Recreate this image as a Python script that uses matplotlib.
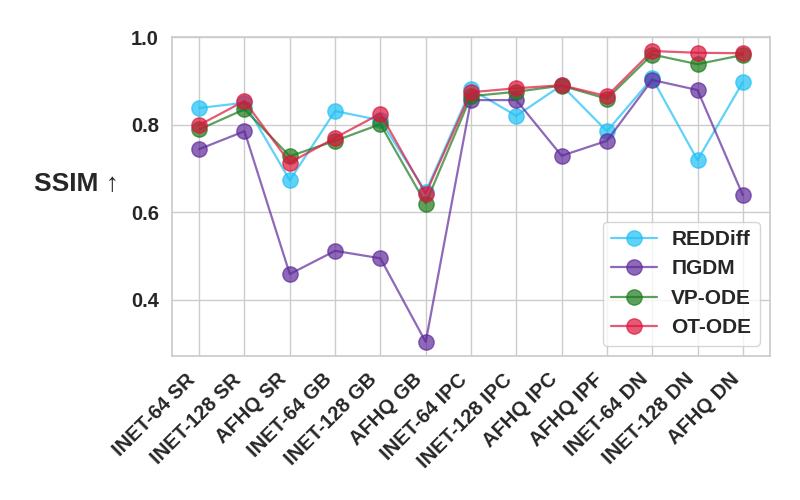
import matplotlib
matplotlib.use("Agg")
import matplotlib.pyplot as plt
import seaborn as sns

categories = ["INET-64 SR", "INET-128 SR", "AFHQ SR", "INET-64 GB", "INET-128 GB",
              "AFHQ GB", "INET-64 IPC", "INET-128 IPC", "AFHQ IPC", "AFHQ IPF",
              "INET-64 DN", "INET-128 DN", "AFHQ DN"]
reddiff = [0.838, 0.850, 0.673, 0.831, 0.810, 0.647, 0.881, 0.820, 0.890, 0.785, 0.906, 0.719, 0.897]
pigdm   = [0.744, 0.785, 0.459, 0.512, 0.495, 0.304, 0.856, 0.856, 0.729, 0.763, 0.902, 0.879, 0.639]
vpode   = [0.789, 0.835, 0.728, 0.763, 0.801, 0.620, 0.865, 0.875, 0.889, 0.859, 0.960, 0.938, 0.959]
otode   = [0.799, 0.854, 0.713, 0.770, 0.825, 0.642, 0.874, 0.883, 0.890, 0.865, 0.968, 0.964, 0.963]

series = [("REDDiff", reddiff, "#1ec0f5"),
          ("ΠGDM", pigdm, "#5e2a9a"),
          ("VP-ODE", vpode, "#1a7a1a"),
          ("OT-ODE", otode, "#dc143c")]

sns.set_theme(style="whitegrid")
plt.rcParams['font.family'] = ['Liberation Sans', 'DejaVu Sans']

fig = plt.figure(figsize=(8, 5), dpi=100)
ax = fig.add_axes([0.215, 0.288, 0.7475, 0.638])

x = list(range(len(categories)))
for name, vals, col in series:
    ax.plot(x, vals, marker="o", markersize=11, linewidth=1.6, color=col, alpha=0.7, label=name)

ax.set_xlim(-0.6, len(categories) - 0.4)
ax.set_ylim(0.272, 1.0)
ax.set_yticks([0.4, 0.6, 0.8, 1.0])
ax.set_yticklabels(["0.4", "0.6", "0.8", "1.0"], fontsize=14.5, fontweight="bold", color="#262626")
ax.set_xticks(x)
ax.set_xticklabels(categories, rotation=45, ha="right",
                   fontsize=14.5, fontweight="bold", color="#262626")
ax.tick_params(axis="x", pad=4)
ax.set_ylabel("SSIM ↑", rotation=0, fontsize=19, fontweight="bold", color="#262626",
              va="center", ha="center")
ax.yaxis.set_label_coords(-0.16, 0.54)

leg = ax.legend(loc="lower right", prop={"weight": "bold", "size": 15},
                frameon=True, borderpad=0.4, handlelength=2.2, labelspacing=0.5,
                handletextpad=0.7)

fig.savefig("out.png", dpi=100)
